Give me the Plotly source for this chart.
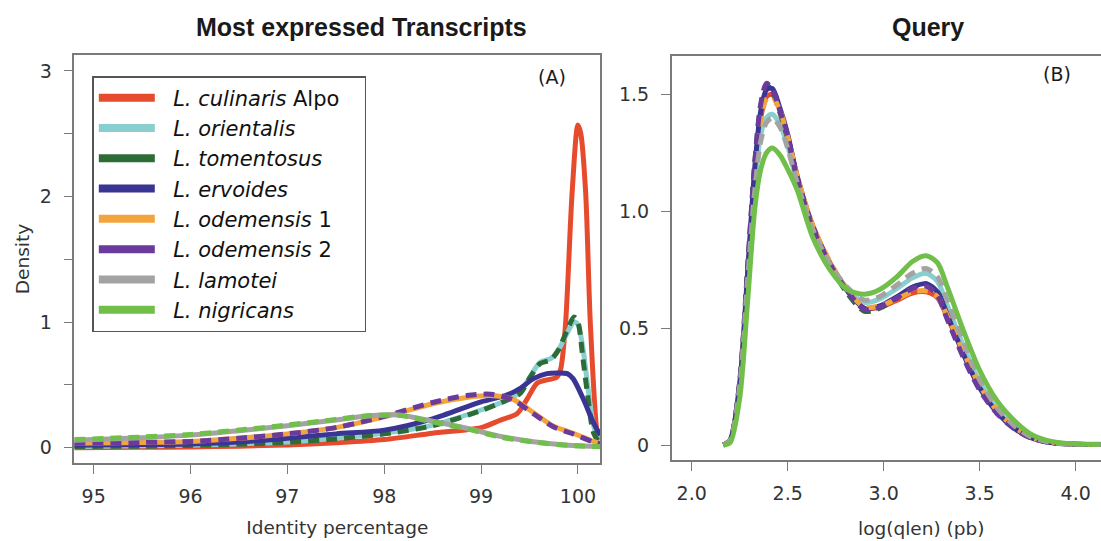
import plotly.graph_objects as go

W, H = 1101, 541

# ---------------- data ----------------
species = ["<i>L. culinaris</i> Alpo", "<i>L. orientalis</i>", "<i>L. tomentosus</i>",
           "<i>L. ervoides</i>", "<i>L. odemensis</i> 1", "<i>L. odemensis</i> 2",
           "<i>L. lamotei</i>", "<i>L. nigricans</i>"]
colors = ["#E64B2E", "#8ACFCF", "#2D6B37", "#3A3594", "#F4A43F", "#6A3B9C", "#A3A3A3", "#71BE4B"]

# Panel A: identity percentage densities
a_x_culinaris = [94.8, 95.5, 96, 96.5, 97, 97.5, 98, 98.5, 99, 99.2, 99.37, 99.47, 99.58, 99.68, 99.78,
                 99.82, 99.87, 99.94, 100.0, 100.03, 100.08, 100.13, 100.21, 100.23]
a_y_culinaris = [0.0, 0.003, 0.006, 0.012, 0.022, 0.04, 0.065, 0.115, 0.16, 0.22, 0.27, 0.38, 0.515, 0.54, 0.56,
                 0.62, 0.96, 2.03, 2.57, 2.5, 2.03, 0.96, 0.06, 0.04]
a_x_orientalis = [94.8, 95.5, 96, 96.5, 97, 97.5, 98, 98.5, 99, 99.27, 99.4, 99.51, 99.61, 99.72, 99.8,
                  99.88, 99.96, 100.0, 100.05, 100.1, 100.16, 100.23]
a_y_orientalis = [0.01, 0.015, 0.02, 0.03, 0.045, 0.075, 0.115, 0.18, 0.30, 0.38, 0.44, 0.57, 0.68, 0.71, 0.78,
                  0.9, 1.0, 0.98, 0.8, 0.5, 0.18, 0.03]
a_x_tomentosus = a_x_orientalis
a_y_tomentosus = [0.01, 0.012, 0.018, 0.028, 0.042, 0.07, 0.11, 0.175, 0.295, 0.38, 0.43, 0.565, 0.67, 0.70, 0.78,
                  0.92, 1.04, 1.0, 0.72, 0.42, 0.12, 0.03]
a_x_ervoides = [94.8, 95.5, 96, 96.5, 97, 97.5, 98, 98.5, 99, 99.27, 99.4, 99.54, 99.68, 99.8, 99.89, 99.95,
                100.06, 100.16, 100.23]
a_y_ervoides = [0.02, 0.025, 0.03, 0.045, 0.075, 0.11, 0.14, 0.23, 0.365, 0.42, 0.47, 0.55, 0.59, 0.595, 0.59, 0.55,
                0.38, 0.2, 0.1]
a_x_odemensis = [94.8, 95.5, 96, 96.5, 97, 97.5, 98, 98.5, 98.85, 99.1, 99.33, 99.54, 99.75, 99.95, 100.16, 100.23]
a_y_odemensis1 = [0.035, 0.042, 0.05, 0.075, 0.11, 0.16, 0.245, 0.35, 0.40, 0.415, 0.385, 0.28, 0.17, 0.115, 0.05, 0.03]
a_y_odemensis2 = [0.035, 0.042, 0.05, 0.075, 0.11, 0.16, 0.25, 0.36, 0.415, 0.425, 0.38, 0.27, 0.165, 0.11, 0.045, 0.03]
a_x_lam_nig = [94.8, 95.5, 96, 96.5, 97, 97.5, 97.8, 98.15, 98.5, 98.85, 99.2, 99.54, 99.9, 100.23]
a_y_lamotei = [0.06, 0.08, 0.10, 0.135, 0.175, 0.22, 0.25, 0.26, 0.21, 0.155, 0.09, 0.048, 0.02, 0.01]
a_y_nigricans = [0.065, 0.085, 0.105, 0.14, 0.18, 0.225, 0.252, 0.258, 0.205, 0.15, 0.085, 0.045, 0.018, 0.008]

# Panel B: log(qlen) densities
b_x = [2.165, 2.2, 2.25, 2.29, 2.33, 2.36, 2.39, 2.42, 2.46, 2.5, 2.55, 2.63, 2.72, 2.81, 2.9, 2.98,
       3.07, 3.15, 3.22, 3.28, 3.33, 3.42, 3.5, 3.59, 3.68, 3.76, 3.85, 3.94, 4.13]
b_y_culinaris = [0, 0.02, 0.25, 0.7, 1.17, 1.4, 1.49, 1.50, 1.43, 1.32, 1.15, 0.94, 0.78, 0.665, 0.585, 0.59,
                 0.62, 0.65, 0.655, 0.63, 0.55, 0.385, 0.25, 0.145, 0.075, 0.036, 0.015, 0.006, 0.002]
b_y_orientalis = [0, 0.02, 0.25, 0.7, 1.12, 1.33, 1.40, 1.415, 1.37, 1.28, 1.12, 0.925, 0.775, 0.67, 0.61, 0.625,
                  0.67, 0.715, 0.735, 0.7, 0.6, 0.415, 0.27, 0.155, 0.08, 0.037, 0.015, 0.006, 0.002]
b_y_tomentosus = [0, 0.02, 0.27, 0.74, 1.22, 1.45, 1.54, 1.51, 1.42, 1.31, 1.14, 0.93, 0.77, 0.65, 0.572, 0.585,
                  0.63, 0.675, 0.69, 0.655, 0.56, 0.385, 0.25, 0.145, 0.075, 0.035, 0.014, 0.006, 0.002]
b_y_ervoides = [0, 0.02, 0.26, 0.72, 1.2, 1.43, 1.52, 1.525, 1.44, 1.33, 1.145, 0.935, 0.775, 0.66, 0.585, 0.595,
                0.635, 0.675, 0.69, 0.655, 0.56, 0.38, 0.245, 0.14, 0.072, 0.033, 0.013, 0.005, 0.002]
b_y_odemensis1 = [0, 0.02, 0.25, 0.7, 1.16, 1.39, 1.48, 1.49, 1.43, 1.32, 1.15, 0.94, 0.785, 0.665, 0.59, 0.595,
                  0.625, 0.655, 0.66, 0.635, 0.555, 0.39, 0.255, 0.148, 0.077, 0.037, 0.015, 0.006, 0.002]
b_y_odemensis2 = [0, 0.02, 0.27, 0.74, 1.22, 1.46, 1.547, 1.52, 1.43, 1.32, 1.14, 0.93, 0.775, 0.66, 0.58, 0.59,
                  0.63, 0.67, 0.68, 0.64, 0.54, 0.365, 0.235, 0.135, 0.07, 0.032, 0.013, 0.005, 0.002]
b_y_lamotei = [0, 0.02, 0.25, 0.69, 1.1, 1.3, 1.38, 1.40, 1.36, 1.27, 1.12, 0.925, 0.775, 0.675, 0.62, 0.635,
               0.685, 0.735, 0.755, 0.72, 0.62, 0.43, 0.28, 0.16, 0.083, 0.038, 0.015, 0.006, 0.002]
b_y_nigricans = [0, 0.01, 0.2, 0.6, 1.02, 1.18, 1.25, 1.27, 1.24, 1.18, 1.09, 0.89, 0.75, 0.665, 0.645, 0.665,
                 0.72, 0.785, 0.81, 0.78, 0.68, 0.48, 0.32, 0.19, 0.105, 0.05, 0.02, 0.008, 0.003]

a_series = [(a_x_culinaris, a_y_culinaris), (a_x_orientalis, a_y_orientalis), (a_x_tomentosus, a_y_tomentosus),
            (a_x_ervoides, a_y_ervoides), (a_x_odemensis, a_y_odemensis1), (a_x_odemensis, a_y_odemensis2),
            (a_x_lam_nig, a_y_lamotei), (a_x_lam_nig, a_y_nigricans)]
b_series = [b_y_culinaris, b_y_orientalis, b_y_tomentosus, b_y_ervoides, b_y_odemensis1, b_y_odemensis2,
            b_y_lamotei, b_y_nigricans]

a_dash = ["solid", "solid", "11px,7px", "solid", "solid", "11px,7px", "solid", "11px,7px"]
b_dash = ["solid", "solid", "11px,7px", "solid", "11px,7px", "11px,7px", "11px,7px", "solid"]

a_xticks = [95, 96, 97, 98, 99, 100]
a_yticks = [0, 0.5, 1, 1.5, 2, 2.5, 3]
a_yticklabels = ["0", "", "1", "", "2", "", "3"]
b_xticks = [2.0, 2.5, 3.0, 3.5, 4.0]
b_xticklabels = ["2.0", "2.5", "3.0", "3.5", "4.0"]
b_yticks = [0, 0.5, 1.0, 1.5]
b_yticklabels = ["0", "0.5", "1.0", "1.5"]

# ---------------- figure ----------------
fig = go.Figure()
LW = 5
for i, (xs, ys) in enumerate(a_series):
    fig.add_trace(go.Scatter(x=xs, y=ys, mode="lines", xaxis="x", yaxis="y", showlegend=False,
                             line=dict(color=colors[i], width=LW, dash=a_dash[i], shape="spline", smoothing=0.8),
                             hoverinfo="skip"))
for i, ys in enumerate(b_series):
    fig.add_trace(go.Scatter(x=b_x, y=ys, mode="lines", xaxis="x2", yaxis="y2", showlegend=False,
                             line=dict(color=colors[i], width=LW, dash=b_dash[i], shape="spline", smoothing=0.8),
                             hoverinfo="skip"))
# legend entries (solid swatches as in the original legend)
NB = "\u00a0"
for i, name in enumerate(species):
    fig.add_trace(go.Scatter(x=[None], y=[None], mode="lines", name=NB * 2 + name + NB * 3,
                             xaxis="x", yaxis="y",
                             line=dict(color=colors[i], width=8), showlegend=True))

FONT = "DejaVu Sans"
TICKC = "#333333"
LINEC = "#7a7a7a"


def px_x(p):
    return p / W


def px_y(p):
    return 1 - p / H


common_axis = dict(showgrid=False, zeroline=False, showline=True, linecolor=LINEC, linewidth=1.5,
                   ticks="outside", ticklen=9, tickcolor=LINEC, tickwidth=1.2,
                   tickfont=dict(family=FONT, size=19, color=TICKC))

fig.update_layout(
    width=W, height=H, autosize=False,
    margin=dict(l=0, r=0, t=0, b=0, pad=0),
    paper_bgcolor="white", plot_bgcolor="white",
    showlegend=True,
    legend=dict(x=px_x(92.3), y=px_y(76), xanchor="left", yanchor="top",
                bordercolor="#555555", borderwidth=1.5, bgcolor="white",
                font=dict(family=FONT, size=21, color="#111111"),
                itemwidth=56, tracegroupgap=0, traceorder="normal"),
    xaxis=dict(domain=[px_x(74.3), px_x(600.2)], range=[94.80, 100.23], anchor="y",
               tickvals=a_xticks, mirror=True, ticklabelstandoff=6,
               title=dict(text="Identity percentage", font=dict(family=FONT, size=18.5, color=TICKC), standoff=16),
               **common_axis),
    yaxis=dict(domain=[px_y(463), px_y(55)], range=[-0.122, 3.127], anchor="x",
               tickvals=a_yticks, ticktext=a_yticklabels, mirror=True, ticklabelstandoff=8,
               title=dict(text="Density", font=dict(family=FONT, size=18.5, color=TICKC), standoff=5),
               **common_axis),
    xaxis2=dict(domain=[px_x(671.7), 1.0], range=[1.896, 4.132], anchor="y2",
                tickvals=b_xticks, ticktext=b_xticklabels, mirror=True, ticklabelstandoff=6,
                **common_axis),
    yaxis2=dict(domain=[px_y(460), px_y(56)], range=[-0.064, 1.664], anchor="x2",
                tickvals=b_yticks, ticktext=b_yticklabels, mirror=False, ticklabelstandoff=8,
                **common_axis),
)

fig.add_annotation(text="<b>Most expressed Transcripts</b>", xref="paper", yref="paper",
                   x=px_x(361), y=px_y(27), xanchor="center", yanchor="middle", showarrow=False,
                   font=dict(family="Liberation Sans", size=25, color="#1a1a1a"))
fig.add_annotation(text="<b>Query</b>", xref="paper", yref="paper",
                   x=px_x(928), y=px_y(27), xanchor="center", yanchor="middle", showarrow=False,
                   font=dict(family="Liberation Sans", size=25, color="#1a1a1a"))
fig.add_annotation(text="(A)", xref="paper", yref="paper", x=px_x(552), y=px_y(76.5),
                   xanchor="center", yanchor="middle", showarrow=False,
                   font=dict(family=FONT, size=19, color="#1a1a1a"))
fig.add_annotation(text="(B)", xref="paper", yref="paper", x=px_x(1057), y=px_y(73.5),
                   xanchor="center", yanchor="middle", showarrow=False,
                   font=dict(family=FONT, size=19, color="#1a1a1a"))
# x-axis title of panel B (the original panel is cropped on the right, so its title sits off the visible centre)
fig.add_annotation(text="log(qlen) (pb)", xref="paper", yref="paper", x=px_x(921), y=px_y(528),
                   xanchor="center", yanchor="middle", showarrow=False,
                   font=dict(family=FONT, size=18.5, color=TICKC))

fig.write_html("out.html")
